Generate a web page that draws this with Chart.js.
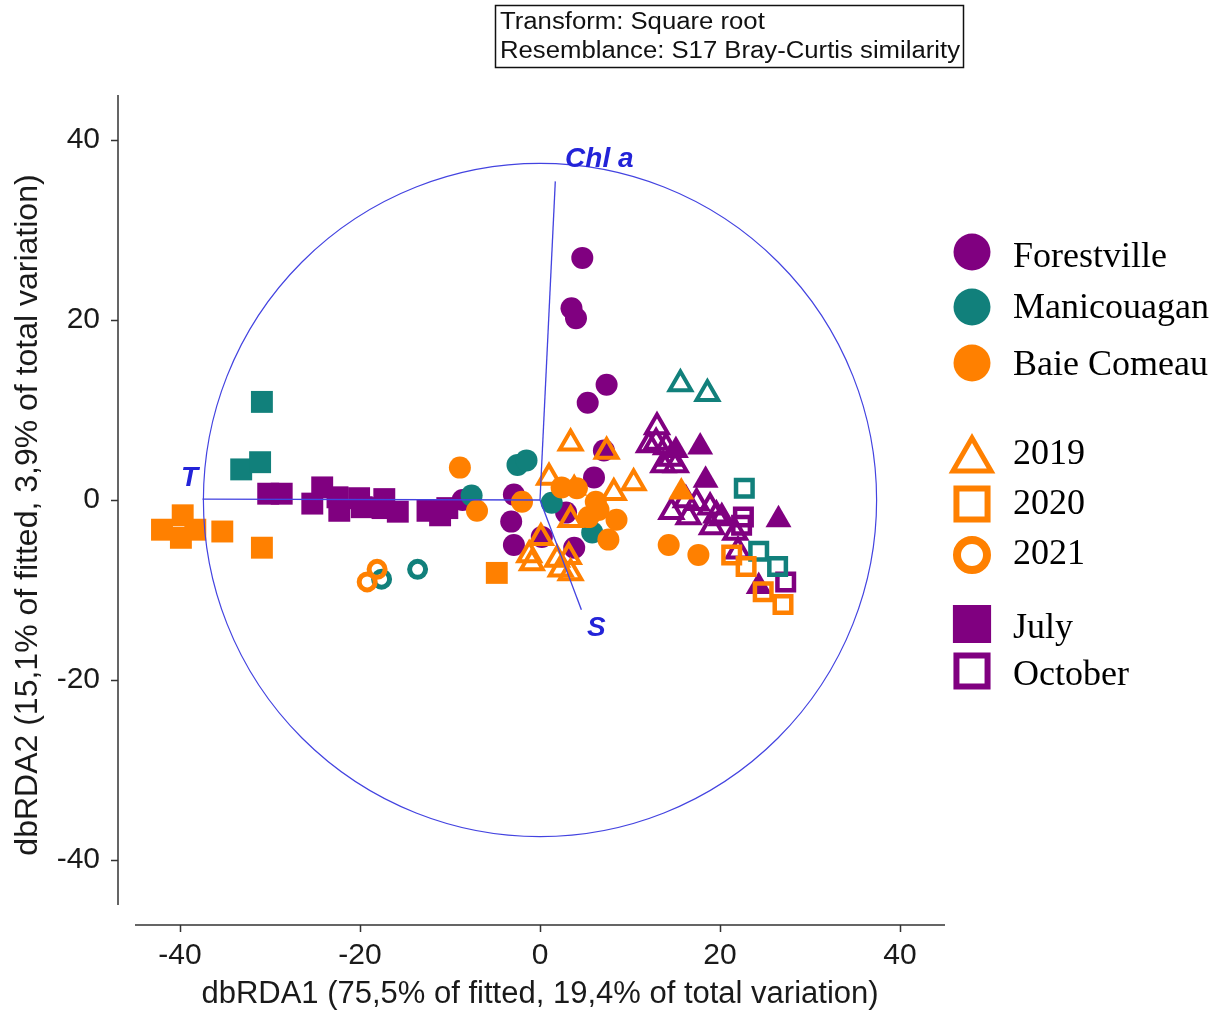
<!DOCTYPE html>
<html>
<head>
<meta charset="utf-8">
<script src="https://cdn.jsdelivr.net/npm/chart.js@4.4.1/dist/chart.umd.min.js"></script>
<style>
  html, body { margin: 0; padding: 0; background: #fff; }
</style>
</head>
<body>
<canvas id="rdaChart" width="1225" height="1025"></canvas>
<script>
// axis ticks
const xTicks = [-40, -20, 0, 20, 40];
const yTicks = [-40, -20, 0, 20, 40];
const xTitle = 'dbRDA1 (75,5% of fitted, 19,4% of total variation)';
const yTitle = 'dbRDA2 (15,1% of fitted, 3,9% of total variation)';
const boxLines = ['Transform: Square root', 'Resemblance: S17 Bray-Curtis similarity'];

const sites = ['Forestville', 'Manicouagan', 'Baie Comeau'];
const years = ['2019', '2020', '2021'];
const months = ['July', 'October'];

// samples [dbRDA1, dbRDA2]
const forestvilleJul2019 = [[15.1, 5.5], [17.8, 5.9], [18.4, 2.2], [26.5, -2.2], [24.3, -9.6]];
const forestvilleOct2019 = [[13.0, 8.1], [12.9, 6.4], [12.1, 6.1], [14.0, 5.9], [14.5, 4.6], [13.7, 3.9], [15.1, 3.9],
  [14.6, -1.3], [16.2, 0.0], [17.4, -0.3], [18.9, -0.8], [19.6, -1.7], [16.5, -1.9], [19.1, -3.0], [20.2, -2.0],
  [21.7, -3.6], [22.0, -5.7]];
const forestvilleJul2020 = [[-30.2, 0.7], [-28.7, 0.7], [-25.3, -0.4], [-24.2, 1.4], [-22.5, 0.3], [-22.3, -1.2],
  [-20.1, 0.2], [-19.8, -0.8], [-17.3, 0.1], [-17.5, -0.9], [-15.8, -1.3], [-12.5, -1.2], [-11.1, -1.7], [-10.3, -0.9]];
const forestvilleOct2020 = [[22.6, -1.9], [22.4, -2.8], [27.3, -9.1]];
const forestvilleJul2021 = [[4.7, 26.9], [3.5, 21.3], [4.0, 20.2], [7.4, 12.8], [5.3, 10.8], [7.1, 5.5], [6.0, 2.5],
  [-8.6, 0.0], [-2.9, 0.6], [-3.2, -2.4], [-2.9, -5.0], [2.9, -1.4], [0.2, -4.1], [3.8, -5.3]];

const manicouaganOct2019 = [[15.6, 12.9], [18.6, 11.8]];
const manicouaganJul2020 = [[-30.9, 10.9], [-33.2, 3.4], [-31.1, 4.2]];
const manicouaganOct2020 = [[22.7, 1.3], [24.3, -5.7], [26.4, -7.4]];
const manicouaganJul2021 = [[-2.5, 3.9], [-1.5, 4.4], [-7.6, 0.5], [1.3, -0.3], [5.8, -3.6]];
const manicouaganOct2021 = [[-17.6, -8.8], [-13.6, -7.7]];

const baieJul2019 = [[3.8, 1.3], [15.7, 0.9]];
const baieOct2019 = [[3.4, 6.3], [7.4, 5.4], [1.0, 2.5], [10.4, 1.9], [8.2, 0.8], [3.4, -2.2], [0.1, -4.2],
  [-1.2, -6.1], [-0.9, -7.0], [1.9, -6.6], [3.2, -6.3], [2.3, -7.7], [3.4, -8.1]];
const baieJul2020 = [[-42.0, -3.3], [-39.7, -1.7], [-39.9, -4.2], [-38.3, -3.3], [-35.3, -3.5], [-30.9, -5.3], [-4.8, -8.1]];
const baieOct2020 = [[21.3, -6.1], [22.9, -7.4], [24.8, -10.2], [27.0, -11.6]];
const baieJul2021 = [[-8.9, 3.6], [-7.0, -1.2], [-2.0, -0.2], [2.4, 1.4], [4.1, 1.3], [6.2, -0.2], [6.5, -1.1],
  [5.4, -1.9], [8.5, -2.2], [7.6, -4.4], [14.3, -5.0], [17.6, -6.1]];
const baieOct2021 = [[-18.1, -7.7], [-19.2, -9.1]];

// environmental vectors
const vectorNames = ['T', 'S', 'Chl a'];
const vectorX = [-37.5, 4.6, 1.7];
const vectorY = [0.1, -12.2, 35.4];
const circleRadius = 37.4;

const siteColors = ['#800080', '#11807b', '#ff8000'];
const vecColor = '#4343e0';
const vecTextColor = '#2323d8';

// site index, year index, month index, points
const groups = [
  [2, 0, 1, baieOct2019], [2, 0, 0, baieJul2019], [2, 1, 0, baieJul2020], [2, 1, 1, baieOct2020],
  [2, 2, 0, baieJul2021], [2, 2, 1, baieOct2021],
  [1, 0, 1, manicouaganOct2019], [1, 1, 0, manicouaganJul2020], [1, 1, 1, manicouaganOct2020],
  [1, 2, 0, manicouaganJul2021], [1, 2, 1, manicouaganOct2021],
  [0, 0, 0, forestvilleJul2019], [0, 0, 1, forestvilleOct2019], [0, 1, 0, forestvilleJul2020],
  [0, 1, 1, forestvilleOct2020], [0, 2, 0, forestvilleJul2021]
];

// marker look per year: [filled, open]
const markerStyle = [
  { style: 'triangle', r: [15, 12.5], bw: 4 },
  { style: 'rect', r: [15.5, 11.7], bw: 4.5 },
  { style: 'circle', r: [11, 8], bw: 5 }
];

const datasets = [];
vectorNames.forEach((name, i) => {
  datasets.push({
    label: name,
    data: [{ x: 0, y: 0 }, { x: vectorX[i], y: vectorY[i] }],
    showLine: true,
    pointRadius: 0,
    borderColor: vecColor,
    borderWidth: 1.3,
  });
});
groups.forEach(([s, yr, m, pts]) => {
  const mk = markerStyle[yr];
  const filled = m === 0;
  datasets.push({
    label: sites[s] + ' ' + months[m] + ' ' + years[yr],
    data: pts.map(([x, y]) => ({ x, y })),
    pointStyle: mk.style,
    pointRadius: filled ? mk.r[0] : mk.r[1],
    backgroundColor: filled ? siteColors[s] : 'transparent',
    borderColor: siteColors[s],
    borderWidth: filled ? 0 : mk.bw,
  });
});

const legendLabels = ['Forestville', 'Manicouagan', 'Baie Comeau', '2019', '2020', '2021', 'July', 'October'];

const decorations = {
  id: 'decorations',
  afterDatasetsDraw(chart) {
    const { ctx, scales: { x, y } } = chart;
    const cx = x.getPixelForValue(0), cy = y.getPixelForValue(0);
    const rx = x.getPixelForValue(circleRadius) - cx;
    const ry = cy - y.getPixelForValue(circleRadius);
    ctx.save();
    ctx.strokeStyle = vecColor;
    ctx.lineWidth = 1.2;
    ctx.beginPath();
    ctx.ellipse(cx, cy, rx, ry, 0, 0, Math.PI * 2);
    ctx.stroke();

    // vector labels
    const offs = [[-13, -21], [15, 18], [44, -22]];
    ctx.fillStyle = vecTextColor;
    ctx.font = 'italic bold 28px "Liberation Sans", Arial, sans-serif';
    ctx.textAlign = 'center';
    ctx.textBaseline = 'middle';
    vectorNames.forEach((name, i) => {
      const px = x.getPixelForValue(vectorX[i]) + offs[i][0];
      const py = y.getPixelForValue(vectorY[i]) + offs[i][1];
      ctx.fillText(name, px, py);
    });
    ctx.restore();
  },
  afterDraw(chart) {
    const { ctx, scales: { x, y }, chartArea } = chart;
    ctx.save();
    // detached axis lines
    ctx.strokeStyle = '#333';
    ctx.lineWidth = 1.5;
    ctx.beginPath();
    ctx.moveTo(118, chartArea.top);
    ctx.lineTo(118, chartArea.bottom);
    yTicks.forEach((v) => {
      const py = Math.round(y.getPixelForValue(v)) + 0.5;
      ctx.moveTo(111, py);
      ctx.lineTo(118, py);
    });
    ctx.moveTo(chartArea.left, 925);
    ctx.lineTo(chartArea.right, 925);
    xTicks.forEach((v) => {
      const px = Math.round(x.getPixelForValue(v)) + 0.5;
      ctx.moveTo(px, 925);
      ctx.lineTo(px, 932);
    });
    ctx.stroke();

    // y axis title, centred a bit below the plot middle like the original
    ctx.fillStyle = '#1a1a1a';
    ctx.font = '32px "Liberation Sans", Arial, sans-serif';
    ctx.textAlign = 'center';
    ctx.textBaseline = 'middle';
    ctx.save();
    ctx.translate(28, 515);
    ctx.rotate(-Math.PI / 2);
    ctx.fillText(yTitle, 0, 0);
    ctx.restore();

    // transform box
    ctx.strokeStyle = '#111';
    ctx.lineWidth = 1.5;
    ctx.strokeRect(495.5, 5.5, 468, 62);
    ctx.fillStyle = '#111';
    ctx.font = '23px "Liberation Sans", Arial, sans-serif';
    ctx.textAlign = 'left';
    ctx.textBaseline = 'alphabetic';
    const w = ctx.measureText(boxLines[1]).width;
    const sx = 460 / w;
    boxLines.forEach((t, i) => {
      ctx.save();
      ctx.translate(500, 29 + i * 29);
      ctx.scale(sx, 1);
      ctx.fillText(t, 0, 0);
      ctx.restore();
    });

    // legend
    const items = [
      { style: 'circle', color: siteColors[0], open: false, r: 18.5, y: 252, ty: 267 },
      { style: 'circle', color: siteColors[1], open: false, r: 18.5, y: 307, ty: 318 },
      { style: 'circle', color: siteColors[2], open: false, r: 18.5, y: 363, ty: 375 },
      { style: 'triangle', color: siteColors[2], open: true, r: 22, bw: 5, y: 460, ty: 464 },
      { style: 'rect', color: siteColors[2], open: true, r: 22, bw: 6, y: 504, ty: 514 },
      { style: 'circle', color: siteColors[2], open: true, r: 15, bw: 8, y: 555, ty: 564 },
      { style: 'rect', color: siteColors[0], open: false, r: 27, y: 624, ty: 638 },
      { style: 'rect', color: siteColors[0], open: true, r: 22, bw: 6, y: 671, ty: 685 }
    ];
    items.forEach((it, i) => {
      ctx.fillStyle = it.open ? '#fff' : it.color;
      ctx.strokeStyle = it.color;
      ctx.lineWidth = it.open ? it.bw : 0;
      ctx.lineJoin = 'miter';
      Chart.helpers.drawPoint(ctx, {
        pointStyle: it.style, radius: it.r, rotation: 0, borderWidth: it.open ? it.bw : 0
      }, 972, it.y);
      ctx.fillStyle = '#000';
      ctx.font = '36px "Liberation Serif", "Times New Roman", serif';
      ctx.textAlign = 'left';
      ctx.textBaseline = 'alphabetic';
      ctx.fillText(legendLabels[i], 1013, it.ty);
    });
    ctx.restore();
  }
};

Chart.defaults.font.family = '"Liberation Sans", Arial, sans-serif';

new Chart(document.getElementById('rdaChart'), {
  type: 'scatter',
  data: { datasets },
  options: {
    responsive: false,
    animation: false,
    events: [],
    layout: { padding: { top: 95, right: 280, bottom: 0, left: 0 } },
    plugins: { legend: { display: false }, tooltip: { enabled: false } },
    scales: {
      x: {
        type: 'linear',
        min: -45,
        max: 45,
        afterBuildTicks: (s) => { s.ticks = xTicks.map((v) => ({ value: v })); },
        afterFit: (s) => { s.height = 120; },
        grid: { display: false, drawTicks: false },
        border: { display: false },
        ticks: { padding: 33, color: '#1a1a1a', font: { size: 30 }, maxRotation: 0, autoSkip: false },
        title: { display: true, text: xTitle, color: '#1a1a1a', font: { size: 31 }, padding: { top: 0, bottom: 12 } }
      },
      y: {
        type: 'linear',
        min: -45,
        max: 45,
        afterBuildTicks: (s) => { s.ticks = yTicks.map((v) => ({ value: v })); },
        afterFit: (s) => { s.width = 135; },
        grid: { display: false, drawTicks: false },
        border: { display: false },
        ticks: { padding: 35, color: '#1a1a1a', font: { size: 30 }, autoSkip: false },
        title: { display: false, text: yTitle }
      }
    }
  },
  plugins: [decorations]
});
</script>
</body>
</html>
